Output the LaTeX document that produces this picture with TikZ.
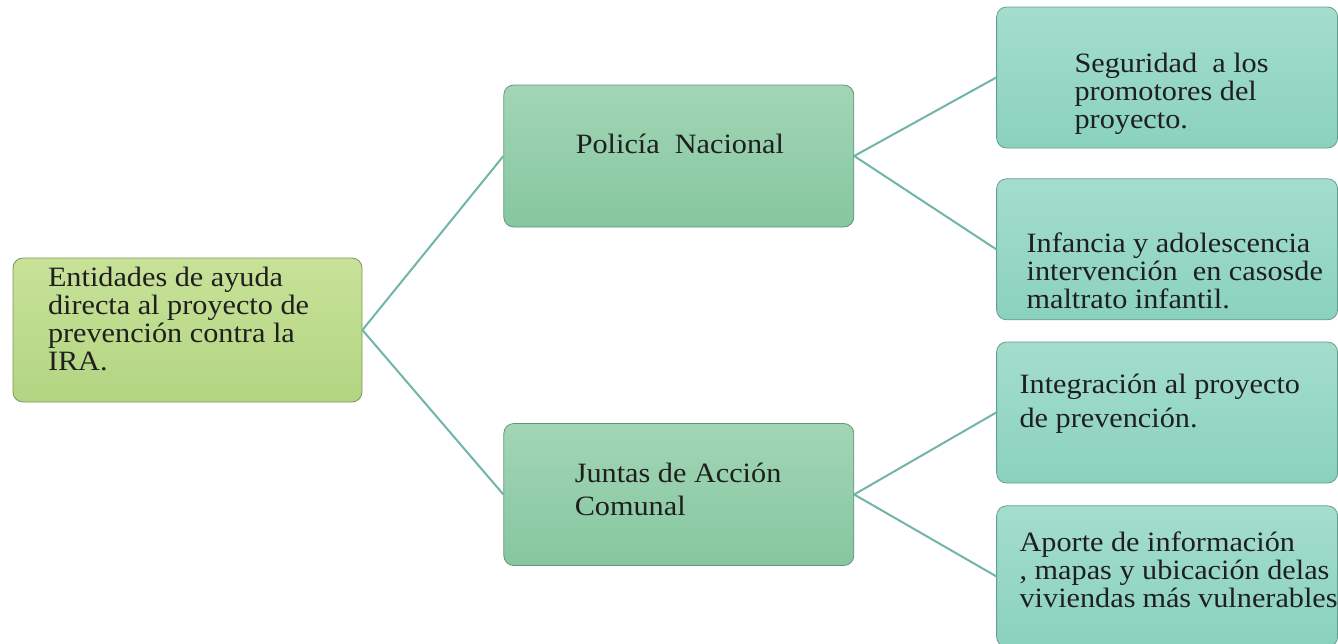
\documentclass[tikz,border=0pt]{standalone}
\usepackage{fontspec}
\setmainfont{Liberation Serif}[FakeStretch=1.08]
\usetikzlibrary{positioning}
\definecolor{rootcol}{RGB}{200,226,152}
\definecolor{rootlow}{RGB}{178,213,130}
\definecolor{midcol}{RGB}{162,213,182}
\definecolor{midlow}{RGB}{133,199,159}
\definecolor{leafcol}{RGB}{164,221,205}
\definecolor{leaflow}{RGB}{138,210,189}
\definecolor{linkcol}{RGB}{112,180,170}
\newcommand{\boxtext}[5]{\parbox[c][70pt][t]{#1}{\raggedright\leftskip=#2\relax
\lineskiplimit=-20pt\relax\baselineskip=#3\relax\rule{0pt}{#4}#5}}

\begin{document}
\begin{tikzpicture}
[x=1pt,y=1pt,
edge/.style={draw=linkcol, line width=1pt},
box/.style={rounded corners=5pt, inner sep=0pt, text=black!88,
  font=\fontsize{14pt}{14pt}\selectfont},
rootbox/.style={box, draw=black!30!rootlow, top color=rootcol, bottom color=rootlow,
  minimum width=174.5pt, minimum height=72pt},
midbox/.style={box, draw=black!25!midlow, top color=midcol, bottom color=midlow,
  minimum width=175pt, minimum height=71pt},
leafbox/.style={box, draw=black!25!leaflow, top color=leafcol, bottom color=leaflow,
  minimum width=170.5pt, minimum height=70.5pt}]
\useasboundingbox (0,0) rectangle (669,-321.5);
%%
\node[rootbox] (ent) at (93.75,-165) {\boxtext{174.5pt}{17.5pt}{14pt}{13pt}{Entidades de ayuda\\
directa al proyecto de\\prevención contra la\\IRA.}};
%%
\node[midbox,right=70.5pt of ent,yshift=87pt] (pol) {\boxtext{175pt}{36pt}{14pt}{33.5pt}{Policía\ \ Nacional}};
\node[midbox,right=70.5pt of ent,yshift=-82.25pt] (jun) {\boxtext{175pt}{35.5pt}{16.5pt}{29pt}{Juntas de Acción\\Comunal}};
%%
\node[leafbox,right=71pt of pol,yshift=39.25pt] (seg) {\boxtext{170.5pt}{39pt}{14pt}{32.5pt}{Seguridad\ \ a los\\
promotores del\\proyecto.}};
\node[leafbox,below=15pt of seg] (inf) {\boxtext{170.5pt}{15pt}{14pt}{36.5pt}{Infancia y adolescencia\\
intervención\ \ en casosde\\maltrato infantil.}};
\node[leafbox,right=71pt of jun,yshift=41pt] (int) {\boxtext{170.5pt}{11.5pt}{17pt}{25.5pt}{Integración al proyecto\\
de prevención.}};
\node[leafbox,below=11pt of int] (apo) {\boxtext{170.5pt}{11.5pt}{14pt}{22.5pt}{Aporte de información\\
, mapas y ubicación delas\\viviendas más vulnerables}};
%%
\draw[edge] (ent.east) -- (pol.west);
\draw[edge] (ent.east) -- (jun.west);
\draw[edge] (pol.east) -- (seg.west);
\draw[edge] (pol.east) -- (inf.west);
\draw[edge] (jun.east) -- (int.west);
\draw[edge] (jun.east) -- (apo.west);
\end{tikzpicture}
\end{document}
